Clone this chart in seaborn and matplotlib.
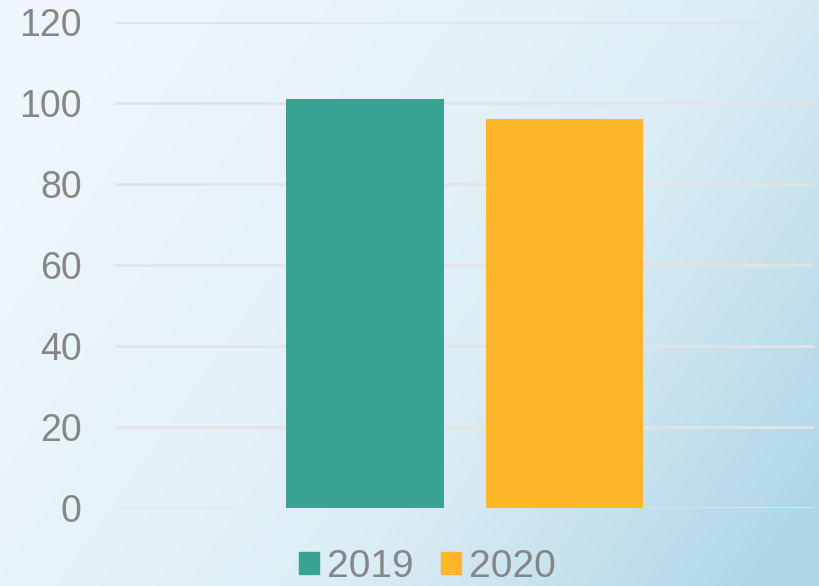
import numpy as np
import pandas as pd
import matplotlib
matplotlib.use("Agg")
import matplotlib.pyplot as plt
from matplotlib.colors import LinearSegmentedColormap
import seaborn as sns

# datos del gráfico
years = ["2019", "2020"]
values = [101, 96]
colors = ["#38A392", "#FEB728"]
y_ticks = [0, 20, 40, 60, 80, 100, 120]

df = pd.DataFrame({"year": years, "value": values})

sns.set_style("white")
plt.rcParams["font.family"] = ["Liberation Sans", "DejaVu Sans"]

fig = plt.figure(figsize=(8.19, 5.86), dpi=100)

# fondo degradado azul claro
bg = fig.add_axes([0, 0, 1, 1], zorder=-1)
gx, gy = np.meshgrid(np.linspace(0, 1, 400), np.linspace(0, 1, 300))
t = np.clip(0.7 * gx + 0.35 * gy, 0, 1) ** 1.5
cmap = LinearSegmentedColormap.from_list("bg", ["#eef7fc", "#dcedf5", "#afd7e7"])
bg.imshow(t, cmap=cmap, aspect="auto", extent=[0, 1, 0, 1], origin="upper",
          vmin=0, vmax=1)
bg.axis("off")

ax = fig.add_axes([115 / 819, 1 - 508 / 586, 699 / 819, 486 / 586])
ax.set_facecolor("none")

sns.barplot(data=df, x="year", y="value", hue="year", palette=colors,
            width=0.79, legend=False, ax=ax, zorder=3, saturation=1,
            linewidth=0, edgecolor="none")

ax.set_ylim(0, 120)
ax.set_xlim(-1.253, 2.25)
ax.set_yticks(y_ticks)
ax.yaxis.grid(True, color="#e3e3e3", linewidth=2, zorder=0)
ax.set_axisbelow(True)
ax.set_xticks([])
ax.set_xlabel("")
ax.set_ylabel("")
ax.tick_params(axis="y", length=0, pad=24, labelsize=27, labelcolor="#868686")
for s in ax.spines.values():
    s.set_visible(False)

handles = [plt.Rectangle((0, 0), 1, 1, color=c) for c in colors]
fig.legend(handles, years, loc="lower center", bbox_to_anchor=(0.522, -0.058),
           ncol=2, frameon=False, fontsize=28, labelcolor="#868686",
           handlelength=0.5, handleheight=0.5, handletextpad=0.22,
           columnspacing=0.7)

fig.savefig("out.png", dpi=100)
plt.close(fig)
